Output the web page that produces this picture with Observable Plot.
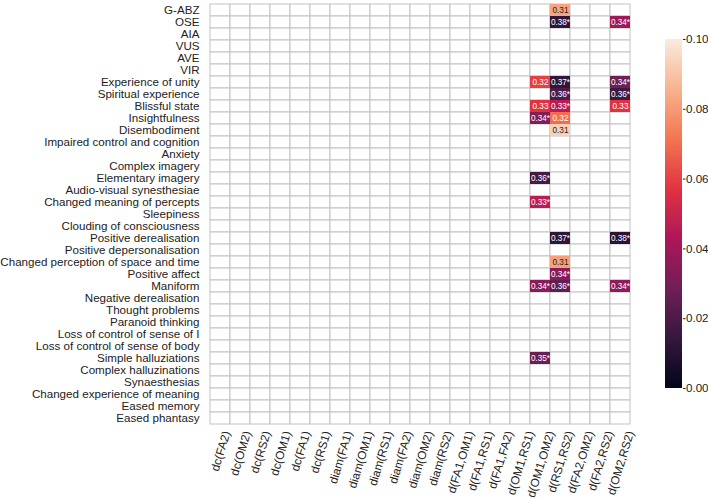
<!DOCTYPE html>
<html>
<head>
<meta charset="utf-8">
<script src="https://cdn.jsdelivr.net/npm/d3@7"></script>
<script src="https://cdn.jsdelivr.net/npm/@observablehq/plot@0.6"></script>
<style>
  html, body { margin: 0; padding: 0; background: #fff; }
  #wrap { position: relative; width: 708px; height: 498px; overflow: hidden; }
  #cbar { position: absolute; left: 665px; top: 29px; }
  svg { overflow: visible; }
</style>
</head>
<body>
<div id="wrap"><div id="main"></div><div id="cbar"></div></div>
<script>
const rows = ["G-ABZ","OSE","AIA","VUS","AVE","VIR","Experience of unity","Spiritual experience","Blissful state","Insightfulness","Disembodiment","Impaired control and cognition","Anxiety","Complex imagery","Elementary imagery","Audio-visual synesthesiae","Changed meaning of percepts","Sleepiness","Clouding of consciousness","Positive derealisation","Positive depersonalisation","Changed perception of space and time","Positive affect","Maniform","Negative derealisation","Thought problems","Paranoid thinking","Loss of control of sense of I","Loss of control of sense of body","Simple halluziations","Complex halluzinations","Synaesthesias","Changed experience of meaning","Eased memory","Eased phantasy"];

const columns = ["dc(FA2)","dc(OM2)","dc(RS2)","dc(OM1)","dc(FA1)","dc(RS1)","diam(FA1)","diam(OM1)","diam(RS1)","diam(FA2)","diam(OM2)","diam(RS2)","d(FA1,OM1)","d(FA1,RS1)","d(FA1,FA2)","d(OM1,RS1)","d(OM1,OM2)","d(RS1,RS2)","d(FA2,OM2)","d(FA2,RS2)","d(OM2,RS2)"];

// significant cells
const sigRow = ["G-ABZ","OSE","OSE","Experience of unity","Experience of unity","Experience of unity","Spiritual experience","Spiritual experience","Blissful state","Blissful state","Blissful state","Insightfulness","Insightfulness","Disembodiment","Elementary imagery","Changed meaning of percepts","Positive derealisation","Positive derealisation","Changed perception of space and time","Positive affect","Maniform","Maniform","Maniform","Simple halluziations"];
const sigCol = ["d(RS1,RS2)","d(RS1,RS2)","d(OM2,RS2)","d(OM1,OM2)","d(RS1,RS2)","d(OM2,RS2)","d(RS1,RS2)","d(OM2,RS2)","d(OM1,OM2)","d(RS1,RS2)","d(OM2,RS2)","d(OM1,OM2)","d(RS1,RS2)","d(RS1,RS2)","d(OM1,OM2)","d(OM1,OM2)","d(RS1,RS2)","d(OM2,RS2)","d(RS1,RS2)","d(RS1,RS2)","d(OM1,OM2)","d(RS1,RS2)","d(OM2,RS2)","d(OM1,OM2)"];
const sigR = [0.31,0.38,0.34,0.32,0.37,0.34,0.36,0.36,0.33,0.33,0.33,0.34,0.32,0.31,0.36,0.33,0.37,0.38,0.31,0.34,0.34,0.36,0.34,0.35];
const sigStar = [false,true,true,false,true,true,true,true,false,true,false,true,false,false,true,true,true,true,false,true,true,true,true,true];
const sigP = [0.082,0.012,0.039,0.060,0.013,0.028,0.020,0.016,0.057,0.046,0.057,0.033,0.070,0.093,0.018,0.046,0.012,0.011,0.081,0.035,0.035,0.025,0.036,0.027];

const colorTicks = [0, 0.02, 0.04, 0.06, 0.08, 0.10];

// seaborn "rocket" colormap stops
const rocketStops = ["#03051A","#35193E","#701F57","#AD1759","#E13342","#F37651","#F6B48F","#FAEBDD"];
const rocket = d3.piecewise(d3.interpolateRgb, rocketStops);
const pDomain = [0, 0.1];

const grid = [];
for (const r of rows) for (const c of columns) grid.push({r, c});
const sig = sigRow.map((r, i) => ({r, c: sigCol[i], p: sigP[i], label: sigR[i].toFixed(2) + (sigStar[i] ? "*" : "")}));

function lum(p) {
  const c = d3.rgb(rocket((p - pDomain[0]) / (pDomain[1] - pDomain[0])));
  const f = v => { v /= 255; return v <= 0.03928 ? v / 12.92 : Math.pow((v + 0.055) / 1.055, 2.4); };
  return 0.2126 * f(c.r) + 0.7152 * f(c.g) + 0.0722 * f(c.b);
}

const font = "'Liberation Sans', Arial, sans-serif";
const labelSize = 11.6;
const xLabelSize = 11.8;

// rotated x labels: centre each rotated label's bounding box on its column
const angle = 73;
const ctx = document.createElement("canvas").getContext("2d");
ctx.font = `${xLabelSize}px 'Liberation Sans'`;
const cosA = Math.cos(angle * Math.PI / 180);
const xLabelMarks = columns.map(c => {
  const L = ctx.measureText(c).width;
  return Plot.text([c], {
    x: d => d, frameAnchor: "bottom", rotate: -angle, textAnchor: "end", lineAnchor: "bottom",
    dx: 0.5 * L * cosA + 0.478 * xLabelSize * 0.7, dy: 6, fontSize: xLabelSize, fill: "#222"
  });
});

const main = Plot.plot({
  width: 708,
  height: 498,
  marginLeft: 202.5,
  marginRight: 70.5,
  marginTop: 2,
  marginBottom: 72,
  style: {fontFamily: font, fontSize: "11.5px", color: "#222", background: "white"},
  x: {domain: columns, padding: 0, label: null, axis: null},
  y: {domain: rows, padding: 0, label: null},
  color: {type: "linear", domain: pDomain, interpolate: rocket},
  marks: [
    Plot.cell(grid, {x: "c", y: "r", fill: "white", stroke: "#c2c2c2", strokeWidth: 1}),
    Plot.cell(sig, {x: "c", y: "r", fill: "p"}),
    Plot.text(sig, {x: "c", y: "r", text: "label", fill: "white", fontSize: 8.2, filter: d => lum(d.p) <= 0.408}),
    Plot.text(sig, {x: "c", y: "r", text: "label", fill: "#262626", fontSize: 8.2, filter: d => lum(d.p) > 0.408}),
    Plot.axisY({tickSize: 0, tickPadding: 3.5, fontSize: labelSize, label: null}),
    ...xLabelMarks
  ]
});
document.getElementById("main").appendChild(main);

const cbSteps = d3.range(0, 200).map(i => pDomain[0] + (pDomain[1] - pDomain[0]) * i / 200);
const cbStep = (pDomain[1] - pDomain[0]) / 200;
const cbar = Plot.plot({
  width: 43,
  height: 369,
  marginTop: 10,
  marginBottom: 10,
  marginLeft: 0,
  marginRight: 26,
  style: {fontFamily: font, fontSize: "11.5px", color: "#222", background: "transparent", overflow: "visible"},
  x: {domain: [0, 1], axis: null},
  y: {domain: pDomain, axis: null},
  color: {type: "linear", domain: pDomain, interpolate: rocket},
  marks: [
    Plot.rect(cbSteps, {x1: 0, x2: 1, y1: d => d, y2: d => Math.min(pDomain[1], d + cbStep * 1.6), fill: d => d + cbStep / 2}),
    Plot.axisY({anchor: "right", ticks: colorTicks, tickFormat: d3.format(".2f"), tickSize: 2.5, tickPadding: 1, label: null, fontSize: labelSize})
  ]
});
document.getElementById("cbar").appendChild(cbar);
</script>
</body>
</html>
